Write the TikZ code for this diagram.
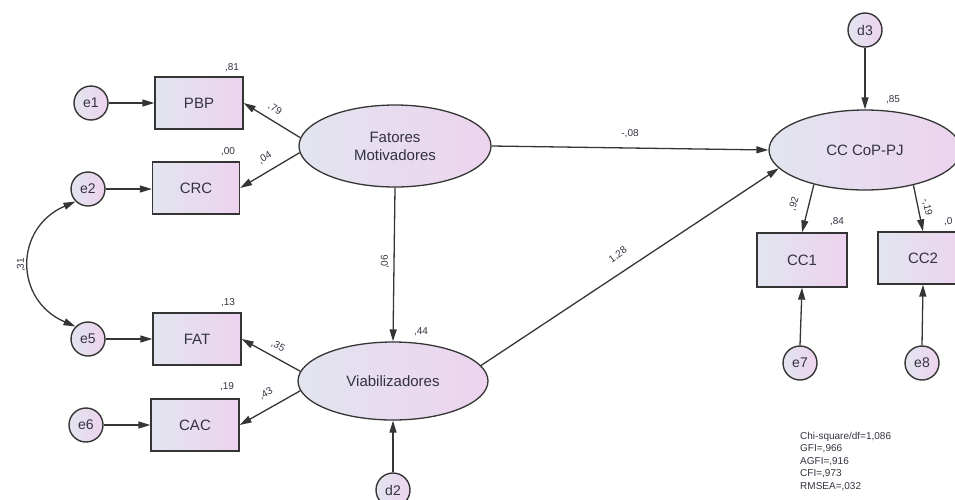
\documentclass[tikz,border=0pt]{standalone}
\usepackage{fontspec}
\setmainfont{Liberation Sans}
\usetikzlibrary{shapes.geometric,arrows.meta}
\definecolor{lc}{HTML}{E2E5EF}
\definecolor{rc}{HTML}{EDD3EE}
\definecolor{bd}{HTML}{353535}
\definecolor{tx}{HTML}{333340}
\begin{document}
\begin{tikzpicture}[x=1pt,y=-1pt,
  obs/.style={draw=bd,line width=1.3pt,left color=lc,right color=rc,minimum width=88pt,minimum height=52pt,inner sep=0pt,text=tx,font=\fontsize{15}{17}\selectfont},
  lat/.style={ellipse,draw=bd,line width=1.3pt,left color=lc,right color=rc,inner sep=0pt,align=center,text=tx,font=\fontsize{15}{18}\selectfont},
  err/.style={circle,draw=bd,line width=1.4pt,left color=lc,right color=rc,minimum size=34pt,inner sep=0pt,text=tx,font=\fontsize{14}{16}\selectfont},
  pth/.style={draw=bd,line width=1.3pt,-{Triangle[length=12pt,width=7pt]}},
  lbl/.style={font=\fontsize{10}{11}\selectfont,text=tx,inner sep=0pt}]
\useasboundingbox (0,0) rectangle (955,499);
\clip (0,0) rectangle (955,499);
% observed and error nodes
\node[err] (e1) at (91,103) {e1};
\node[obs] (pbp) at (199,103) {PBP};
\node[err] (e2) at (88,189) {e2};
\node[obs,minimum width=87pt] (crc) at (196,188) {CRC};
\node[err] (e5) at (88,339) {e5};
\node[obs] (fat) at (197,339) {FAT};
\node[err] (e6) at (86,425) {e6};
\node[obs] (cac) at (195,425) {CAC};
% latent
\node[lat,minimum width=192pt,minimum height=82pt] (fm) at (395,146) {Fatores\\Motivadores};
\node[lat,minimum width=190pt,minimum height=78pt] (via) at (393,381) {Viabilizadores};
\node[err] (d2) at (393,490) {d2};
\node[err] (d3) at (865,30) {d3};
\node[lat,minimum width=192pt,minimum height=80pt] (cc) at (865,150) {CC CoP-PJ};
\node[obs,minimum width=90pt,minimum height=54pt] (cc1) at (802,260) {CC1};
\node[obs,minimum width=90pt,minimum height=52pt] (cc2) at (923,258) {CC2};
\node[err] (e7) at (800,363) {e7};
\node[err] (e8) at (922,363) {e8};
% paths
\draw[pth] (e1) -- (pbp);
\draw[pth] (e2.east) -- (crc.west |- e2.east);
\draw[pth] (e5) -- (fat);
\draw[pth] (e6) -- (cac);
\draw[pth] (fm.175) -- (pbp.east);
\draw[pth] (fm.184) -- (crc.east);
\draw[pth] (via.174) -- (fat.east);
\draw[pth] (via.186) -- (cac.east);
\draw[pth] (fm.south) -- (via.north);
\draw[pth] (d2.north) -- (via.south);
\draw[pth] (fm.east) -- (cc.west);
\draw[pth] (via.10) -- (cc.192);
\draw[pth] (d3.south) -- (cc.north);
\draw[pth] (cc.214) -- (cc1.north);
\draw[pth] (cc.324) -- (cc2.north);
\draw[pth] (e7.north) -- (cc1.south);
\draw[pth] (e8.north) -- (cc2.south);
\draw[draw=bd,line width=1.3pt,{Triangle[length=12pt,width=7pt]}-{Triangle[length=12pt,width=7pt]}]
  (e2.225) .. controls (14,228) and (14,300) .. (e5.135);
% labels
\node[lbl] (l1) at (232,68) {,81};
\node[lbl] (l2) at (228,152) {,00};
\node[lbl] (l3) at (228,303) {,13};
\node[lbl] (l4) at (227,387) {,19};
\node[lbl] (l5) at (421,332) {,44};
\node[lbl] (l6) at (893,100) {,85};
\node[lbl] (l7) at (837,222) {,84};
\node[lbl,anchor=west] (l8) at (944,222) {,0};
\node[lbl,rotate=-31] (p1) at (275,109) {,79};
\node[lbl,rotate=32] (p2) at (265,158) {,04};
\node[lbl,rotate=-29] (p3) at (278,346) {,35};
\node[lbl,rotate=30] (p4) at (266,394) {,43};
\node[lbl,rotate=90] (p5) at (21,265) {,31};
\node[lbl,rotate=90] (p6) at (385,262) {,06};
\node[lbl] (p7) at (630,134) {-,08};
\node[lbl,rotate=36] (p8) at (618,255) {1,28};
\node[lbl,rotate=73] (p9) at (794,204) {,92};
\node[lbl,rotate=-78] (p10) at (927,207) {-,19};
\node[lbl,anchor=north west,align=left,font=\fontsize{10}{12.5}\selectfont] (fit) at (800,432)
  {Chi-square/df=1,086\\GFI=,966\\AGFI=,916\\CFI=,973\\RMSEA=,032};
\end{tikzpicture}
\end{document}
